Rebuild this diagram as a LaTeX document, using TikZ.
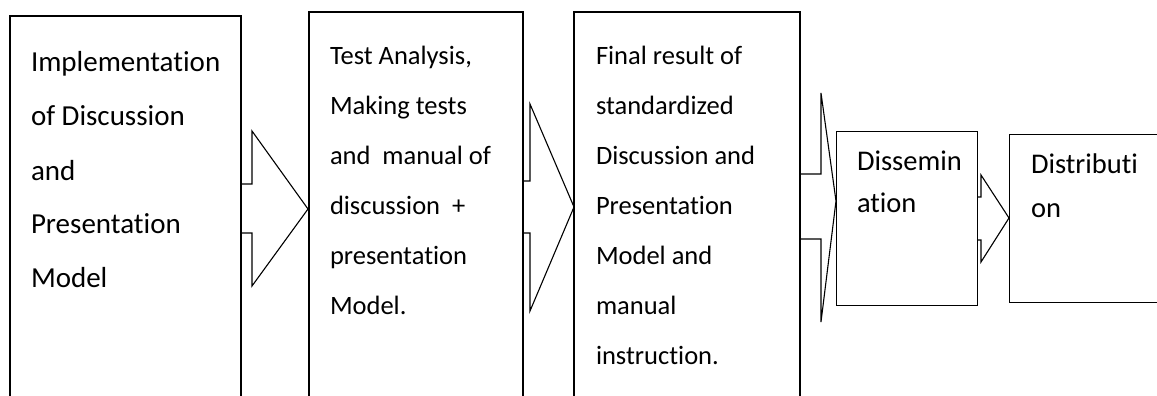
\documentclass[tikz,border=0pt]{standalone}
\usepackage{fontspec}
\setmainfont{Carlito}[Ligatures={NoCommon,NoContextual}]
\begin{document}
\begin{tikzpicture}[x=1pt,y=-1pt,
  stage/.style={draw=black, line width=1.1pt, fill=none},
  blockarrow/.style={draw=black, line width=1.1pt, line join=miter},
  label/.style={anchor=base west, inner sep=0pt, outer sep=0pt}]
\useasboundingbox (0,0) rectangle (1157,396);
\clip (0,0) rectangle (1157,396);
\fill[white] (0,0) rectangle (1157,396);
% stage boxes
\draw[stage] (10,430) -- (10,16) -- (241,16) -- (241,430);
\coordinate (b1) at (10,16);
\draw[stage] (309,430) -- (309,12) -- (523,12) -- (523,430);
\coordinate (b2) at (309,12);
\draw[stage] (574,430) -- (574,12) -- (800,12) -- (800,430);
\coordinate (b3) at (574,12);
\node[stage, anchor=north west, minimum width=141pt, minimum height=174pt, inner sep=0pt] (b4) at (836,131) {};
\node[stage, anchor=north west, minimum width=200pt, minimum height=168pt, inner sep=0pt] (b5) at (1009,134) {};
% block arrows
\draw[blockarrow] (241,184) -- (252,184) -- (252,131) -- (308,209) -- (252,286) -- (252,233) -- (241,233);
\draw[blockarrow] (523,181) -- (530,181) -- (530,104) -- (574,207) -- (530,311) -- (530,233) -- (523,233);
\draw[blockarrow] (800,174) -- (821,174) -- (821,93) -- (836,201) -- (821,322) -- (821,239) -- (800,239);
\draw[blockarrow] (977,197) -- (981,197) -- (981,175) -- (1009,218) -- (981,262) -- (981,240) -- (977,240);
% texts
\node[label] (t1) at (31,72) {\parbox[t]{220pt}{\fontsize{29}{54}\selectfont Implementation\\of Discussion\\and\\Presentation\\Model}};
\node[label] (t2) at (330,65) {\parbox[t]{200pt}{\fontsize{26.5}{50}\selectfont Test Analysis,\\Making tests\\and\ \ manual of\\discussion\ \ +\\presentation\\Model.}};
\node[label] (t3) at (596,65) {\parbox[t]{200pt}{\fontsize{26.5}{50}\selectfont Final result of\\standardized\\Discussion and\\Presentation\\Model and\\manual\\instruction.}};
\node[label] (t4) at (857,170) {\parbox[t]{130pt}{\fontsize{28.5}{42}\selectfont Dissemin\\ation}};
\node[label] (t5) at (1031,173) {\parbox[t]{130pt}{\fontsize{28.5}{44}\selectfont Distributi\\on}};
\end{tikzpicture}
\end{document}
